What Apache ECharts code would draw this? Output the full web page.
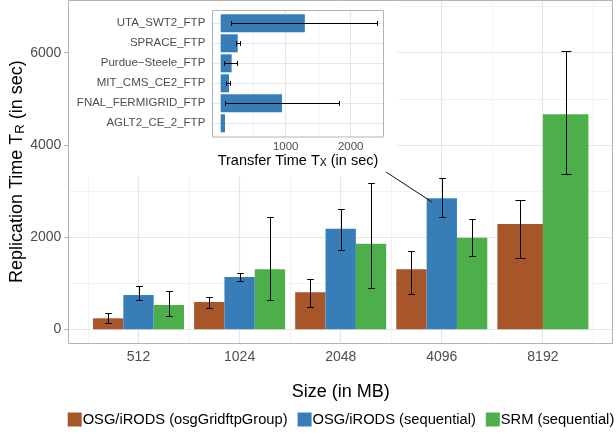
<!DOCTYPE html>
<html>
<head>
<meta charset="utf-8">
<script src="https://cdn.jsdelivr.net/npm/echarts@6/dist/echarts.min.js"></script>
<style>
html, body { margin: 0; padding: 0; background: #fff; }
#main { width: 616px; height: 434px; }
</style>
</head>
<body>
<div id="main"></div>
<script>
// main chart: replication time by file size
var sizes = ['512', '1024', '2048', '4096', '8192'];
var groupTime = [238, 592, 802, 1301, 2284];
var groupLow = [144, 469, 492, 766, 1554];
var groupHigh = [361, 707, 1092, 1706, 2811];
var seqTime = [744, 1134, 2183, 2841, null];
var seqLow = [629, 1048, 1728, 2429, null];
var seqHigh = [946, 1228, 2610, 3275, null];
var srmTime = [527, 1301, 1858, 1988, 4663];
var srmLow = [281, 629, 896, 1583, 3362];
var srmHigh = [838, 2436, 3181, 2400, 6043];
var yTicks = [0, 2000, 4000, 6000];
var yMinor = [1000, 3000, 5000, 7000];

// inset: transfer time per site (bottom to top)
var sites = ['AGLT2_CE_2_FTP', 'FNAL_FERMIGRID_FTP', 'MIT_CMS_CE2_FTP', 'Purdue\u2212Steele_FTP', 'SPRACE_FTP', 'UTA_SWT2_FTP'];
var transferTime = [66, 943, 128, 169, 262, 1295];
var transferLow = [null, 61, 77, 56, 235, 158];
var transferHigh = [null, 1815, 148, 246, 292, 2403];
var xTicks = [1000, 2000];
var xMinor = [500, 1500, 2500];

var groups = [
  { name: 'OSG/iRODS (osgGridftpGroup)', color: '#A65628', vals: groupTime, lo: groupLow, hi: groupHigh },
  { name: 'OSG/iRODS (sequential)', color: '#377EB8', vals: seqTime, lo: seqLow, hi: seqHigh },
  { name: 'SRM (sequential)', color: '#4DAF4A', vals: srmTime, lo: srmLow, hi: srmHigh }
];

var MAJOR = '#e6e6e6', MINOR = '#f3f3f3', BORDER = '#b3b3b3';
var yMin = -304, yMax = 7143;

function presentAt(i) {
  return groups.filter(function (g) { return g.vals[i] != null; });
}
function plain(v) { return String(v); }

function hline(v, c, w) { return { yAxis: v, lineStyle: { color: c, width: w, type: 'solid' } }; }
function vline(v, c, w) { return { xAxis: v, lineStyle: { color: c, width: w, type: 'solid' } }; }

// background grid lines of the main panel
var mainLines = [];
yMinor.forEach(function (v) { mainLines.push(hline(v, MINOR, 1)); });
sizes.forEach(function (s, i) { mainLines.push(vline(i + 0.5, MINOR, 1)); });
mainLines.push(vline(sizes.length + 0.5, MINOR, 1));
yTicks.forEach(function (v) { mainLines.push(hline(v, MAJOR, 1.2)); });
sizes.forEach(function (s, i) { mainLines.push(vline(i + 1, MAJOR, 1.2)); });

var series = [{
  type: 'line', xAxisIndex: 0, yAxisIndex: 0, data: [], silent: true,
  markLine: { z: 1, silent: true, symbol: ['none', 'none'], label: { show: false }, animation: false, data: mainLines }
}];

// bars: full categories on axis 1, categories with a missing group on axis 2
groups.forEach(function (g, gi) {
  var full = g.vals.map(function (v, i) { return presentAt(i).length === groups.length ? v : null; });
  var part = g.vals.map(function (v, i) { return presentAt(i).length < groups.length ? v : null; });
  series.push({
    name: g.name, type: 'bar', xAxisIndex: 1, yAxisIndex: 1, data: full,
    barGap: '0%', barCategoryGap: '10%', itemStyle: { color: g.color }, z: 2
  });
  if (part.some(function (v) { return v != null; })) {
    series.push({
      name: g.name, type: 'bar', xAxisIndex: 2, yAxisIndex: 1, data: part,
      barGap: '0%', barCategoryGap: '10%', itemStyle: { color: g.color }, z: 2
    });
  }
});

function errorBars(gi) {
  return function (params, api) {
    var cat = api.value(0);
    var band = api.size([1, 0])[0];
    var present = presentAt(cat);
    var k = present.indexOf(groups[gi]);
    var barW = band * 0.9 / present.length;
    var cx = Math.round(api.coord([cat, 0])[0] - band * 0.45 + barW * (k + 0.5)) + 0.5;
    var top = Math.round(api.coord([cat, api.value(2)])[1]) + 0.5;
    var bot = Math.round(api.coord([cat, api.value(1)])[1]) + 0.5;
    var cap = barW * 0.11;
    var st = { stroke: '#000', lineWidth: 1 };
    return {
      type: 'group', children: [
        { type: 'line', shape: { x1: cx, y1: top, x2: cx, y2: bot }, style: st },
        { type: 'line', shape: { x1: cx - cap, y1: top, x2: cx + cap, y2: top }, style: st },
        { type: 'line', shape: { x1: cx - cap, y1: bot, x2: cx + cap, y2: bot }, style: st }
      ]
    };
  };
}

groups.forEach(function (g, gi) {
  var d = [];
  g.vals.forEach(function (v, i) { if (g.lo[i] != null) d.push([i, g.lo[i], g.hi[i]]); });
  series.push({
    type: 'custom', xAxisIndex: 1, yAxisIndex: 1, data: d, z: 3, silent: true,
    renderItem: errorBars(gi)
  });
});

// inset grid lines
var insetV = [];
xMinor.forEach(function (v) { insetV.push(vline(v, MINOR, 1)); });
xTicks.forEach(function (v) { insetV.push(vline(v, MAJOR, 1.2)); });
series.push({
  type: 'line', xAxisIndex: 4, yAxisIndex: 3, data: [], silent: true,
  markLine: { z: 6, silent: true, symbol: ['none', 'none'], label: { show: false }, animation: false, data: insetV }
});
series.push({
  type: 'line', xAxisIndex: 3, yAxisIndex: 2, data: [], silent: true,
  markLine: {
    z: 6, silent: true, symbol: ['none', 'none'], label: { show: false }, animation: false,
    data: sites.map(function (s, i) { return hline(i, MAJOR, 1.2); })
  }
});
series.push({
  type: 'bar', xAxisIndex: 3, yAxisIndex: 2, data: transferTime, z: 7,
  barCategoryGap: '10%', itemStyle: { color: '#377EB8' }
});
var insetErr = [];
transferTime.forEach(function (v, i) { if (transferLow[i] != null) insetErr.push([transferLow[i], transferHigh[i], i]); });
series.push({
  type: 'custom', xAxisIndex: 3, yAxisIndex: 2, data: insetErr, z: 8, silent: true,
  encode: { x: [0, 1], y: 2 },
  renderItem: function (params, api) {
    var cat = api.value(2);
    var band = api.size([0, 1])[1];
    var cy = Math.round(api.coord([0, cat])[1]) + 0.5;
    var x1 = Math.round(api.coord([api.value(0), cat])[0]) + 0.5;
    var x2 = Math.round(api.coord([api.value(1), cat])[0]) + 0.5;
    var cap = band * 0.12;
    var st = { stroke: '#000', lineWidth: 1 };
    return {
      type: 'group', children: [
        { type: 'line', shape: { x1: x1, y1: cy, x2: x2, y2: cy }, style: st },
        { type: 'line', shape: { x1: x1, y1: cy - cap, x2: x1, y2: cy + cap }, style: st },
        { type: 'line', shape: { x1: x2, y1: cy - cap, x2: x2, y2: cy + cap }, style: st }
      ]
    };
  }
});

var subRich = function (size, pad) {
  return { sub: { fontSize: size, lineHeight: size, verticalAlign: 'bottom', padding: [pad, 0, 0, 0] } };
};

var option = {
  animation: false,
  textStyle: { fontFamily: 'Liberation Sans' },
  grid: [
    { left: 68.3, top: 0, width: 544.2, height: 343.3, outerBoundsMode: 'none' },
    { left: 87.95, top: 0, width: 505.5, height: 343.3, outerBoundsMode: 'none' },
    { left: 212.3, top: 13.3, width: 171.4, height: 120, outerBoundsMode: 'none' },
    { left: 212.3, top: 10.7, width: 171.4, height: 126.3, outerBoundsMode: 'none' }
  ],
  xAxis: [
    { gridIndex: 0, type: 'value', min: 0.305, max: 5.695, show: false },
    {
      gridIndex: 1, type: 'category', data: sizes, position: 'bottom',
      axisLine: { show: false },
      axisTick: { alignWithLabel: true, length: 4, lineStyle: { color: BORDER } },
      axisLabel: { fontSize: 14, color: '#4d4d4d', margin: 7 },
      splitLine: { show: false },
      name: 'Size (in MB)', nameLocation: 'middle', nameGap: 40, nameMoveOverlap: false,
      nameTextStyle: { fontSize: 18, color: '#000' }
    },
    { gridIndex: 1, type: 'category', data: sizes, position: 'top', show: false },
    {
      gridIndex: 2, type: 'value', min: -129, max: 2508, offset: 3.7, z: 10,
      axisLine: { show: false },
      axisTick: { length: 3, customValues: xTicks, lineStyle: { color: BORDER } },
      axisLabel: { fontSize: 11.5, color: '#4d4d4d', margin: 4, customValues: xTicks, formatter: plain },
      splitLine: { show: false },
      name: 'Transfer Time T{sub|X} (in sec)', nameLocation: 'middle', nameGap: 16, nameMoveOverlap: false,
      nameTextStyle: { fontSize: 14.5, color: '#000', lineHeight: 16, rich: subRich(10.5, 6) }
    },
    { gridIndex: 3, type: 'value', min: -129, max: 2508, show: false }
  ],
  yAxis: [
    {
      gridIndex: 0, type: 'value', min: yMin, max: yMax,
      axisLine: { show: false },
      axisTick: { show: true, length: 4, customValues: yTicks, lineStyle: { color: BORDER } },
      axisLabel: { fontSize: 14, color: '#4d4d4d', margin: 7, customValues: yTicks, formatter: plain },
      splitLine: { show: false },
      name: 'Replication Time T{sub|R} (in sec)', nameLocation: 'middle', nameGap: 41, nameRotate: 90,
      nameMoveOverlap: false,
      nameTextStyle: { fontSize: 18, color: '#000', lineHeight: 20, rich: subRich(13, 7) }
    },
    { gridIndex: 1, type: 'value', min: yMin, max: yMax, show: false },
    {
      gridIndex: 2, type: 'category', data: sites, z: 10,
      axisLine: { show: false },
      axisTick: { alignWithLabel: true, length: 4, lineStyle: { color: BORDER } },
      axisLabel: { fontSize: 11.5, color: '#4d4d4d', margin: 7 },
      splitLine: { show: false }
    },
    { gridIndex: 3, type: 'value', min: 0, max: 1, show: false }
  ],
  legend: {
    left: 67.7, top: 412, width: 548, padding: 0,
    itemWidth: 14, itemHeight: 14, itemGap: 10, icon: 'rect',
    data: groups.map(function (g) { return g.name; }),
    textStyle: { fontSize: 14.7, color: '#000', padding: [0, 0, 0, -4] },
    selectedMode: false
  },
  graphic: [
    { type: 'rect', z: 4, silent: true, shape: { x: 69, y: 1, width: 328, height: 175.5 }, style: { fill: '#fff' } },
    { type: 'rect', z: 5, silent: true, shape: { x: 68.5, y: 0.5, width: 544, height: 343 }, style: { fill: 'none', stroke: BORDER, lineWidth: 1 } },
    { type: 'rect', z: 9, silent: true, shape: { x: 212.5, y: 10.5, width: 171, height: 126.5 }, style: { fill: 'none', stroke: BORDER, lineWidth: 1 } },
    { type: 'line', z: 11, silent: true, shape: { x1: 386, y1: 172, x2: 432, y2: 202 }, style: { stroke: '#111', lineWidth: 1 } }
  ],
  series: series
};

var chart = echarts.init(document.getElementById('main'));
chart.setOption(option);
</script>
</body>
</html>
